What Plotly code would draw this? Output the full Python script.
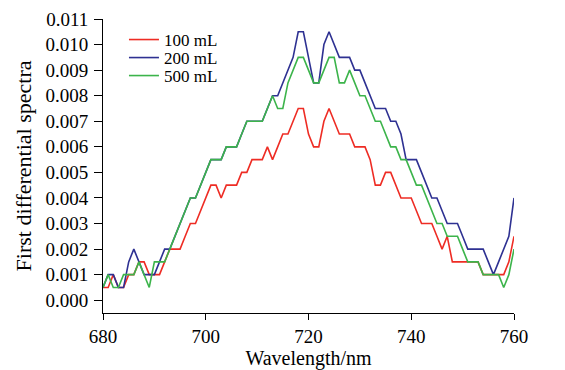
import plotly.graph_objects as go

wavelength = list(range(680, 761))

ml100 = [0.0005, 0.0005, 0.001, 0.0005, 0.0005, 0.001, 0.001, 0.0015, 0.0015, 0.001,
         0.001, 0.001, 0.0015, 0.002, 0.002, 0.002, 0.0025, 0.003, 0.003, 0.0035,
         0.004, 0.0045, 0.0045, 0.004, 0.0045, 0.0045, 0.0045, 0.005, 0.005, 0.0055,
         0.0055, 0.0055, 0.006, 0.0055, 0.006, 0.0065, 0.0065, 0.007, 0.0075, 0.0075,
         0.0065, 0.006, 0.006, 0.007, 0.0075, 0.007, 0.0065, 0.0065, 0.0065, 0.006,
         0.006, 0.006, 0.0055, 0.0045, 0.0045, 0.005, 0.005, 0.0045, 0.004, 0.004,
         0.004, 0.0035, 0.003, 0.003, 0.003, 0.0025, 0.002, 0.0025, 0.0015, 0.0015,
         0.0015, 0.0015, 0.0015, 0.0015, 0.001, 0.001, 0.001, 0.001, 0.001, 0.0015,
         0.0025]

ml200 = [0.0005, 0.001, 0.001, 0.0005, 0.0005, 0.0015, 0.002, 0.0015, 0.001, 0.001,
         0.001, 0.0015, 0.002, 0.002, 0.0025, 0.003, 0.0035, 0.004, 0.004, 0.0045,
         0.005, 0.0055, 0.0055, 0.0055, 0.006, 0.006, 0.006, 0.0065, 0.007, 0.007,
         0.007, 0.007, 0.0075, 0.008, 0.008, 0.0085, 0.009, 0.0095, 0.0105, 0.0105,
         0.0095, 0.0085, 0.0085, 0.01, 0.0105, 0.01, 0.0095, 0.0095, 0.0095, 0.009,
         0.009, 0.0085, 0.008, 0.0075, 0.0075, 0.0075, 0.007, 0.007, 0.0065, 0.0055,
         0.0055, 0.0055, 0.005, 0.0045, 0.004, 0.004, 0.0035, 0.003, 0.003, 0.003,
         0.0025, 0.002, 0.002, 0.002, 0.002, 0.0015, 0.001, 0.0015, 0.002, 0.0025,
         0.004]

ml500 = [0.0005, 0.001, 0.0005, 0.0005, 0.001, 0.001, 0.001, 0.0015, 0.001, 0.0005,
         0.0015, 0.0015, 0.0015, 0.002, 0.0025, 0.003, 0.0035, 0.004, 0.004, 0.0045,
         0.005, 0.0055, 0.0055, 0.0055, 0.006, 0.006, 0.006, 0.0065, 0.007, 0.007,
         0.007, 0.007, 0.0075, 0.008, 0.0075, 0.0075, 0.0085, 0.009, 0.0095, 0.0095,
         0.009, 0.0085, 0.0085, 0.009, 0.0095, 0.0095, 0.0085, 0.0085, 0.009, 0.0085,
         0.008, 0.008, 0.0075, 0.007, 0.007, 0.0065, 0.006, 0.006, 0.0055, 0.0055,
         0.005, 0.0045, 0.0045, 0.004, 0.0035, 0.003, 0.003, 0.0025, 0.0025, 0.0025,
         0.002, 0.0015, 0.0015, 0.0015, 0.001, 0.001, 0.001, 0.001, 0.0005, 0.001,
         0.002]

series_names = ["100 mL", "200 mL", "500 mL"]
series_colors = ["#ee2c24", "#2e3192", "#3cb44b"]
legend_ids = ["legend", "legend2", "legend3"]
legend_y = [0.9286, 0.8673, 0.8061]

x_ticks = [680, 700, 720, 740, 760]
y_ticks = [i / 1000 for i in range(0, 12)]
y_ticklabels = ["%.3f" % v for v in y_ticks]

FONT = "Times New Roman, Liberation Serif, serif"

fig = go.Figure()
for name, vals, col, lg in zip(series_names, [ml100, ml200, ml500], series_colors, legend_ids):
    fig.add_trace(go.Scatter(x=wavelength, y=vals, mode="lines", name=name,
                             legend=lg, line=dict(color=col, width=1.6)))

legend_common = dict(x=0.051, xanchor="left", yanchor="middle",
                     bgcolor="rgba(0,0,0,0)", font=dict(family=FONT, size=17),
                     itemwidth=30, borderwidth=0)

# page body adds an 8px offset, so the figure is 8px smaller and margins shifted
fig.update_layout(
    width=557, height=362,
    margin=dict(l=95, r=51, t=11, b=57),
    paper_bgcolor="white", plot_bgcolor="white",
    font=dict(family=FONT, size=19, color="black"),
    showlegend=True,
    legend=dict(y=legend_y[0], **legend_common),
    legend2=dict(y=legend_y[1], **legend_common),
    legend3=dict(y=legend_y[2], **legend_common),
    xaxis=dict(range=[680, 760], tickvals=x_ticks, ticks="outside", ticklen=6,
               tickwidth=1, tickcolor="black", showline=True, linecolor="black",
               linewidth=1, showgrid=False, zeroline=False, mirror=False,
               automargin=False,
               title=dict(text="Wavelength/nm", font=dict(size=20), standoff=4)),
    yaxis=dict(range=[-0.0005, 0.011], tickvals=y_ticks, ticktext=y_ticklabels,
               ticks="outside", ticklen=8, tickwidth=1, tickcolor="black",
               ticklabelstandoff=2,
               showline=True, linecolor="black", linewidth=1, showgrid=False,
               zeroline=False, mirror=False, automargin=False,
               title=dict(text="First differential spectra", font=dict(size=22), standoff=7)),
)

fig.write_html("out.html")
